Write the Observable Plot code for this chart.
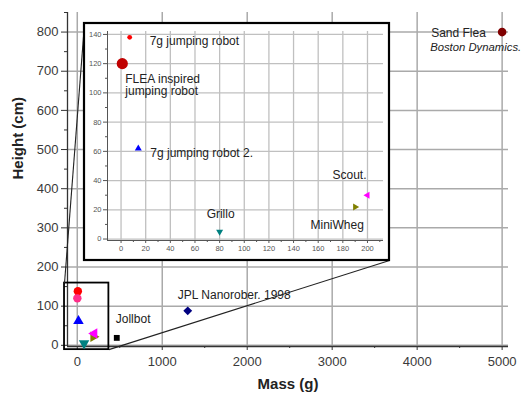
<!DOCTYPE html>
<html><head><meta charset="utf-8">
<script src="https://cdn.jsdelivr.net/npm/d3@7"></script>
<script src="https://cdn.jsdelivr.net/npm/@observablehq/plot@0.6"></script>
<style>body{margin:0;background:#fff}</style>
</head><body><div id="chart"></div>
<script>
// ---- data ----
const robots = ["7g jumping robot", "FLEA inspired jumping robot", "7g jumping robot 2.", "Grillo", "MiniWheg", "Scout.", "Jollbot", "JPL Nanorober. 1998", "Sand Flea"];
const massG = [7, 1, 14, 80, 190, 200, 465, 1300, 5000];
const heightCm = [138, 120, 62, 5, 22, 30, 19, 88, 800];
const xTicksMain = [0, 1000, 2000, 3000, 4000, 5000];
const xMinorMain = [500, 1500, 2500, 3500, 4500];
const yTicksMain = [0, 100, 200, 300, 400, 500, 600, 700, 800];
const yMinorMain = [50, 150, 250, 350, 450, 550, 650, 750, 850];
const xTicksInset = [0, 20, 40, 60, 80, 100, 120, 140, 160, 180, 200];
const xMinorInset = [10, 30, 50, 70, 90, 110, 130, 150, 170, 190, 210];
const yTicksInset = [0, 20, 40, 60, 80, 100, 120, 140];
const yMinorInset = [10, 30, 50, 70, 90, 110, 130];
const insetNames = ["7g jumping robot", "FLEA inspired jumping robot", "7g jumping robot 2.", "Grillo", "MiniWheg", "Scout."];

const rows = robots.map((name, i) => ({name, mass: massG[i], height: heightCm[i]}));
const insetRows = rows.filter(d => insetNames.includes(d.name));
const byName = n => rows.filter(d => d.name === n);

// ---- custom triangle symbols ----
const sqrt3 = Math.sqrt(3);
function tri(rot) {
  return {draw(ctx, size) {
    const y = -Math.sqrt(size / (sqrt3 * 3));
    const pts = [[0, 2 * y], [-sqrt3 * y, -y], [sqrt3 * y, -y]].map(([px, py]) =>
      rot === "down" ? [px, -py] : rot === "right" ? [-py, px] : rot === "left" ? [py, -px] : [px, py]);
    ctx.moveTo(pts[0][0], pts[0][1]);
    ctx.lineTo(pts[1][0], pts[1][1]);
    ctx.lineTo(pts[2][0], pts[2][1]);
    ctx.closePath();
  }};
}
const symbolRange = ["circle", "circle", tri("up"), tri("down"), tri("right"), tri("left"), "square", "diamond2", "circle"];
const mainColors = ["#ff0000", "#ff2f8a", "#0000ff", "#008080", "#808000", "#ff00ff", "#000000", "#000080", "#800000"];
const insetColors = ["#ff0000", "#c00000", "#0000ff", "#008080", "#808000", "#ff00ff", "#000000", "#000080", "#800000"];
const mainSizes = [4.2, 4.2, 3.9, 3.9, 3.9, 3.9, 3.3, 4.0, 4.3];
const insetSizes = [2.4, 5.6, 2.6, 2.6, 2.6, 2.6, 2, 2, 2];

// ---- layout ----
const W = 522, H = 401;
const mL = 67, mR = 14, mT = 12, mB = 55;
const xDom = [-115, 5075], yDom = [-3, 850];
const sx = Plot.scale({x: {domain: xDom, range: [mL, W - mR]}});
const sy = Plot.scale({y: {domain: yDom, range: [H - mB, mT]}});
const inset = {left: 84, top: 23, width: 305, height: 237};
const insetBox = {x1: sx.invert(inset.left), x2: sx.invert(inset.left + inset.width),
                  y1: sy.invert(inset.top + inset.height), y2: sy.invert(inset.top)};
const zoomBox = {x1: -150, x2: 372, y1: -11, y2: 159};
const links = [
  {x1: zoomBox.x1, y1: zoomBox.y2, x2: insetBox.x1, y2: insetBox.y2},
  {x1: zoomBox.x2, y1: zoomBox.y1, x2: insetBox.x2, y2: insetBox.y1}
];
const labelFont = "Liberation Sans, Arial, sans-serif";
const grid = "#aaaaaa";
const fmt = d3.format("d");

const main = Plot.plot({
  width: W, height: H,
  marginLeft: mL, marginRight: mR, marginTop: mT, marginBottom: mB,
  style: {fontFamily: "Liberation Sans, Arial, sans-serif", fontSize: "13px", color: "#3a3a3a", background: "white"},
  x: {domain: xDom},
  y: {domain: yDom},
  r: {type: "identity"},
  symbol: {domain: robots, range: symbolRange},
  color: {domain: robots, range: mainColors},
  marks: [
    Plot.gridX(xTicksMain, {stroke: grid, strokeOpacity: 1, strokeWidth: 1.5}),
    Plot.gridY(yTicksMain, {stroke: grid, strokeOpacity: 1, strokeWidth: 1.5}),
    Plot.axisY(yTicksMain, {tickSize: 6, tickPadding: 3, label: null, stroke: "#333", tickFormat: fmt}),
    Plot.axisY(yMinorMain, {tickSize: 3, text: null, label: null, stroke: "#333"}),
    Plot.axisX(xTicksMain, {tickSize: 4, tickPadding: 6, label: null, stroke: "#333", tickFormat: fmt}),
    Plot.axisX(xMinorMain, {tickSize: 2, text: null, label: null, stroke: "#333"}),
    Plot.ruleX([xDom[0]], {stroke: "#333", strokeWidth: 1.3}),
    Plot.ruleY([yDom[0]], {stroke: "#333", strokeWidth: 1.3}),
    Plot.text(["Height (cm)"], {frameAnchor: "left", rotate: -90, dx: -49, fontWeight: "bold", fontSize: 15, fill: "#222"}),
    Plot.text(["Mass (g)"], {frameAnchor: "bottom", dy: 42, fontWeight: "bold", fontSize: 15, fill: "#222"}),
    Plot.rect([zoomBox], {x1: "x1", x2: "x2", y1: "y1", y2: "y2", fill: "none", stroke: "black", strokeWidth: 1.8}),
    Plot.link(links, {x1: "x1", y1: "y1", x2: "x2", y2: "y2", stroke: "#222", strokeWidth: 1.1}),
    Plot.dot(rows, {x: "mass", y: "height", symbol: "name", fill: "name", r: d => mainSizes[robots.indexOf(d.name)]}),
    Plot.text(byName("Jollbot"), {x: "mass", y: "height", text: "name", textAnchor: "start", dx: -1, dy: -19, fontFamily: labelFont, fontSize: 12, fill: "#222"}),
    Plot.text(byName("JPL Nanorober. 1998"), {x: "mass", y: "height", text: "name", textAnchor: "start", dx: -10, dy: -16, fontFamily: labelFont, fontSize: 12, fill: "#222"}),
    Plot.text(byName("Sand Flea"), {x: "mass", y: "height", text: "name", textAnchor: "start", dx: -71, dy: 1, fontFamily: labelFont, fontSize: 12, fill: "#222"}),
    Plot.text(byName("Sand Flea"), {x: "mass", y: "height", text: () => "Boston Dynamics.", textAnchor: "start", dx: -72, dy: 15, fontFamily: labelFont, fontSize: 11.3, fontStyle: "italic", fill: "#222"}),
    Plot.rect([insetBox], {x1: "x1", x2: "x2", y1: "y1", y2: "y2", fill: "white", stroke: "black", strokeWidth: 2.2})
  ]
});

const insetPlot = Plot.plot({
  width: inset.width, height: inset.height,
  marginLeft: 23, marginRight: 6, marginTop: 8, marginBottom: 20,
  style: {fontFamily: "Liberation Sans, Arial, sans-serif", fontSize: "7.5px", color: "#555"},
  x: {domain: [-11, 213]},
  y: {domain: [-1, 142]},
  r: {type: "identity"},
  symbol: {domain: robots, range: symbolRange},
  color: {domain: robots, range: insetColors},
  marks: [
    Plot.gridX(xTicksInset, {stroke: "#c0c0c0", strokeOpacity: 1, strokeWidth: 1.3}),
    Plot.gridY(yTicksInset, {stroke: "#c0c0c0", strokeOpacity: 1, strokeWidth: 1.3}),
    Plot.axisY(yTicksInset, {tickSize: 4, tickPadding: 2, label: null, stroke: "#555"}),
    Plot.axisY(yMinorInset, {tickSize: 2, text: null, label: null, stroke: "#555"}),
    Plot.axisX(xTicksInset, {tickSize: 3, tickPadding: 2, label: null, stroke: "#555"}),
    Plot.axisX(xMinorInset, {tickSize: 2, text: null, label: null, stroke: "#555"}),
    Plot.ruleX([-11], {stroke: "#555", strokeWidth: 1}),
    Plot.ruleY([-1], {stroke: "#555", strokeWidth: 1}),
    Plot.dot(insetRows, {x: "mass", y: "height", symbol: "name", fill: "name", r: d => insetSizes[robots.indexOf(d.name)]}),
    Plot.text(byName("7g jumping robot"), {x: "mass", y: "height", text: "name", textAnchor: "start", dx: 20, dy: 4, fontFamily: labelFont, fontSize: 12, fill: "#222"}),
    Plot.text(byName("FLEA inspired jumping robot"), {x: "mass", y: "height", text: () => "FLEA inspired\njumping robot", textAnchor: "start", lineAnchor: "top", lineHeight: 1.05, dx: 3, dy: 10, fontFamily: labelFont, fontSize: 12, fill: "#222"}),
    Plot.text(byName("7g jumping robot 2."), {x: "mass", y: "height", text: "name", textAnchor: "start", dx: 12, dy: 5, fontFamily: labelFont, fontSize: 12, fill: "#222"}),
    Plot.text(byName("Grillo"), {x: "mass", y: "height", text: "name", textAnchor: "middle", dx: 1, dy: -18, fontFamily: labelFont, fontSize: 12, fill: "#222"}),
    Plot.text(byName("Scout."), {x: "mass", y: "height", text: "name", textAnchor: "end", dx: -1, dy: -20, fontFamily: labelFont, fontSize: 12, fill: "#222"}),
    Plot.text(byName("MiniWheg"), {x: "mass", y: "height", text: "name", textAnchor: "middle", dx: -18, dy: 18, fontFamily: labelFont, fontSize: 12, fill: "#222"})
  ]
});

insetPlot.setAttribute("x", inset.left);
insetPlot.setAttribute("y", inset.top);
insetPlot.style.width = inset.width + "px";
insetPlot.style.height = inset.height + "px";
insetPlot.style.overflow = "visible";
main.appendChild(insetPlot);
document.getElementById("chart").appendChild(main);
</script>
</body></html>
